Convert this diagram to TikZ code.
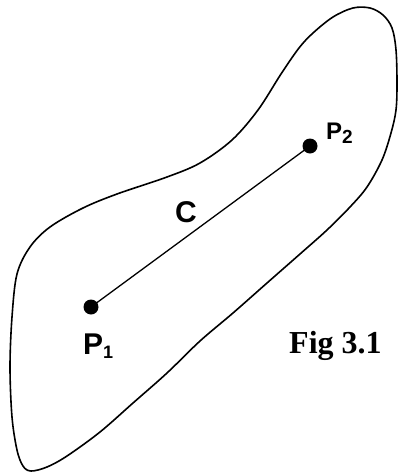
\documentclass[tikz,border=0pt]{standalone}
\usepackage{fontspec}
\setmainfont{Liberation Serif}
\newfontfamily\arialfont{Liberation Sans}
\begin{document}
\begin{tikzpicture}[x=1pt,y=-1pt,
  outline/.style={line width=1.6pt, line join=round},
  ptdot/.style={circle, fill=black, inner sep=0pt, minimum size=15pt},
  lbl/.style={font=\arialfont\bfseries\fontsize{30}{32}\selectfont, inner sep=0pt},
  conn/.style={line width=1.3pt}]
\useasboundingbox (0,0) rectangle (399,472);
\draw[outline] plot[smooth cycle, tension=0.55] coordinates {
 (313,33) (333,17) (353,8) (370,8) (383,15) (392,28) (396,50) (397,83) (396,110)
 (391,133) (382,160) (367,187) (350,207) (327,230) (300,254) (267,283) (233,313)
 (200,341) (167,373) (133,403) (100,432) (67,456) (47,467) (31,471) (23,466)
 (17,450) (12,417) (10,367) (12,317) (17,274) (30,247) (50,227) (83,208)
 (117,194) (167,177) (200,163) (232,140) (258,110) (281,74) (299,48)};
\node[ptdot] (p1) at (91,307) {};
\node[ptdot] (p2) at (310,146) {};
\draw[conn] (p1.center) -- (p2.center);
\node[lbl, anchor=base west] (l1) at (83,354) {P\raisebox{-4pt}{\fontsize{18}{20}\selectfont 1}};
\node[lbl, font=\arialfont\bfseries\fontsize{24}{26}\selectfont, anchor=base west] (l2) at (326,139) {P\raisebox{-4pt}{\fontsize{19}{21}\selectfont 2}};
\node[lbl, anchor=base] (c) at (186,222) {C};
\node[font=\bfseries\fontsize{32}{34}\selectfont, inner sep=0pt, anchor=base west] (fig) at (289,353) {Fig 3.1};
\end{tikzpicture}
\end{document}
